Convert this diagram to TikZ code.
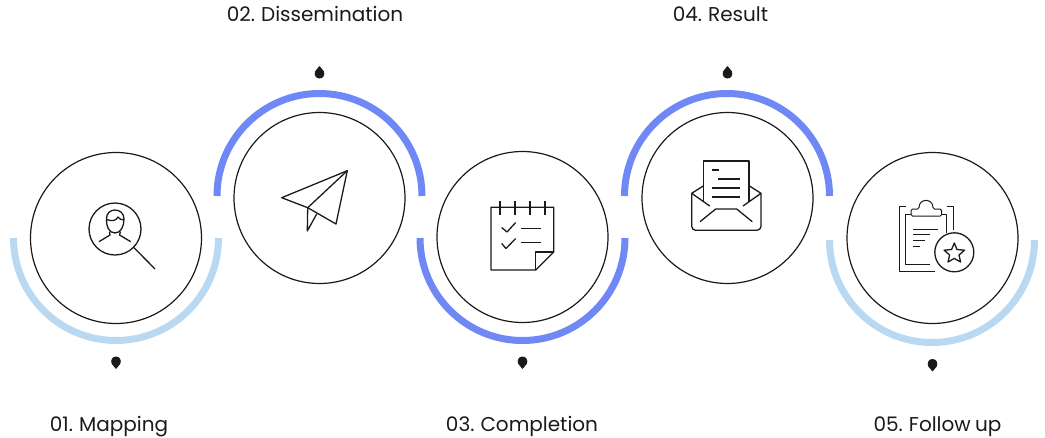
\documentclass[tikz,border=0pt]{standalone}
\usepackage{fontspec}
\setmainfont[WordSpace=0.8]{Poppins}
\usepackage{tikz}
\definecolor{paleBlue}{HTML}{B9D8F2}
\definecolor{strongBlue}{HTML}{7088F6}
\definecolor{inkBlack}{HTML}{1A1A1A}
\begin{document}
\begin{tikzpicture}[x=1pt, y=-1pt, line join=round, font=\fontsize{20}{24}\selectfont,
      stepring/.style={draw=inkBlack, line width=1.2pt, circle, minimum size=171pt, inner sep=0pt},
      steplabel/.style={text=inkBlack, inner sep=0pt},
      band/.style={line width=7pt},
      icon/.style={draw=inkBlack, line width=1.3pt},
      dropdown/.pic={\fill[inkBlack] (0,6.5) -- (-4.2,1.5) .. controls (-6,-2.5) and (-3.5,-6) .. (0,-6) .. controls (3.5,-6) and (6,-2.5) .. (4.2,1.5) -- cycle;},
      dropup/.pic={\fill[inkBlack] (0,-6.5) -- (-4.2,-1.5) .. controls (-6,2.5) and (-3.5,6) .. (0,6) .. controls (3.5,6) and (6,2.5) .. (4.2,-1.5) -- cycle;}]
    \useasboundingbox (0,0) rectangle (1045,437);
    % ---- rings
    \node[stepring] (ringA) at (116,238) {};
    \node[stepring] (ringB) at (319.5,198) {};
    \node[stepring] (ringC) at (522.5,237) {};
    \node[stepring] (ringD) at (727.5,198) {};
    \node[stepring] (ringE) at (932.5,238) {};
    % ---- bands
    \draw[band, paleBlue] (ringA.center) ++(-102.5,0) arc[start angle=180, end angle=360, x radius=102.5, y radius=-102.5];
    \draw[band, strongBlue] (ringB.center) ++(-102.5,-2) arc[start angle=180, end angle=0, x radius=102.5, y radius=-102.5];
    \draw[band, strongBlue] (ringC.center) ++(-102.5,1) arc[start angle=180, end angle=360, x radius=102.5, y radius=-102.5];
    \draw[band, strongBlue] (ringD.center) ++(-103,-2) arc[start angle=180, end angle=0, x radius=102.5, y radius=-102.5];
    \draw[band, paleBlue] (ringE.center) ++(-103,2) arc[start angle=180, end angle=360, x radius=102.5, y radius=-102.5];
    % ---- drops
    \pic at (116,362.5) {dropdown};
    \pic at (319.5,72.5) {dropup};
    \pic at (522.5,362.5) {dropdown};
    \pic at (727.5,72.5) {dropup};
    \pic at (932.5,365) {dropdown};
    % ---- labels
    \node[steplabel] (labelA) at (109,426.5) {01. Mapping};
    \node[steplabel] (labelB) at (315,14) {02. Dissemination};
    \node[steplabel] (labelC) at (522,426.5) {03. Completion};
    \node[steplabel] (labelD) at (720.5,14) {04. Result};
    \node[steplabel] (labelE) at (937.5,426.5) {05. Follow up};
    % ---- magnifier
    \draw[icon] (115,229) circle[radius=26];
    \draw[icon] (134,247.7) -- (155,269);
    \draw[icon] (106.5,219) .. controls (106,207) and (124,207) .. (124,219)
      .. controls (124,226) and (121,233) .. (115,233) .. controls (109,233) and (106,226) .. (106.5,219);
    \draw[icon] (106.5,219.5) .. controls (112,221.5) and (116,221) .. (118,217) .. controls (119.5,219) and (121,220) .. (124,220);
    \draw[icon] (109.5,231.5) -- (110,235) -- (99,241.7);
    \draw[icon] (120.5,231.5) -- (119.5,235) -- (130.7,241.7);
    % ---- paper plane
    \draw[icon] (281.7,197.7) -- (347.3,170.7) -- (336,224) -- (307.7,207.7) -- cycle;
    \draw[icon] (307.7,207.7) -- (347.3,170.7);
    \draw[icon] (307.7,207.7) -- (307.3,231) -- (316.7,214);
    % ---- notepad
    \draw[icon] (535.7,270) -- (491,270) -- (491,207.3) -- (553.7,207.3) -- (553.7,252) -- cycle;
    \draw[icon] (535.7,270) -- (535.7,252) -- (553.7,252);
    \foreach \i in {500,515,530,545} { \draw[icon] (\i,201) -- (\i,215); }
    \draw[icon] (501.7,227.5) -- (507,232) -- (515.7,222.5);
    \draw[icon] (501.7,243.5) -- (506,248.5) -- (515.7,238.5);
    \draw[icon] (520.5,228.3) -- (541,228.3);
    \draw[icon] (520.5,242.7) -- (541,242.7);
    % ---- open envelope
    \draw[icon] (703.7,201.7) -- (703.7,161) -- (749,161) -- (749,201.7);
    \draw[icon] (703.7,185.7) -- (691.7,193.3) -- (709.7,206) ;
    \draw[icon] (749,185.7) -- (761,193.3) -- (743,206);
    \draw[icon, rounded corners=4pt] (691.7,193.3) -- (691.7,230.3) -- (761,230.3) -- (761,193.3);
    \draw[icon] (700,221.7) -- (715.7,209) -- (736.7,209) -- (752.3,221.7);
    \draw[icon] (712.3,170) -- (719,170);
    \draw[icon] (718.3,179) -- (740,179);
    \draw[icon] (712.3,188) -- (740,188);
    \draw[icon] (712.3,197) -- (740,197);
    % ---- clipboard
    \draw[icon, line width=1pt] (905.7,206) -- (899,206) -- (899,271) -- (935,271);
    \draw[icon, line width=1pt] (911,214) -- (905.7,214) -- (905.7,264) -- (930,264);
    \draw[icon, line width=1pt] (942.3,214) -- (946.7,214) -- (946.7,233);
    \draw[icon, line width=1pt] (946.7,206.7) -- (953,206.7) -- (953,230);
    \draw[icon, rounded corners=1.5pt, line width=1pt] (911,216) -- (911,209) -- (919,209)
      .. controls (919,198) and (933,198) .. (933,209) -- (941.7,209) -- (941.7,216) -- cycle;
    \draw[icon, line width=1pt] (913.3,229) -- (938.3,229);
    \draw[icon, line width=1pt] (913.3,234.3) -- (930,234.3);
    \draw[icon, line width=1pt] (913.3,240.7) -- (925,240.7);
    \draw[icon, line width=1pt] (913.3,246.7) -- (920,246.7);
    \draw[icon] (954.3,252.3) circle[radius=19.5];
    \draw[icon] (954.3,243) -- (957,249.5) -- (964.5,250.2) -- (959,255) -- (960.6,262) -- (954.3,258.4)
      -- (948,262) -- (949.6,255) -- (944.1,250.2) -- (951.6,249.5) -- cycle;
  \end{tikzpicture}
\end{document}
